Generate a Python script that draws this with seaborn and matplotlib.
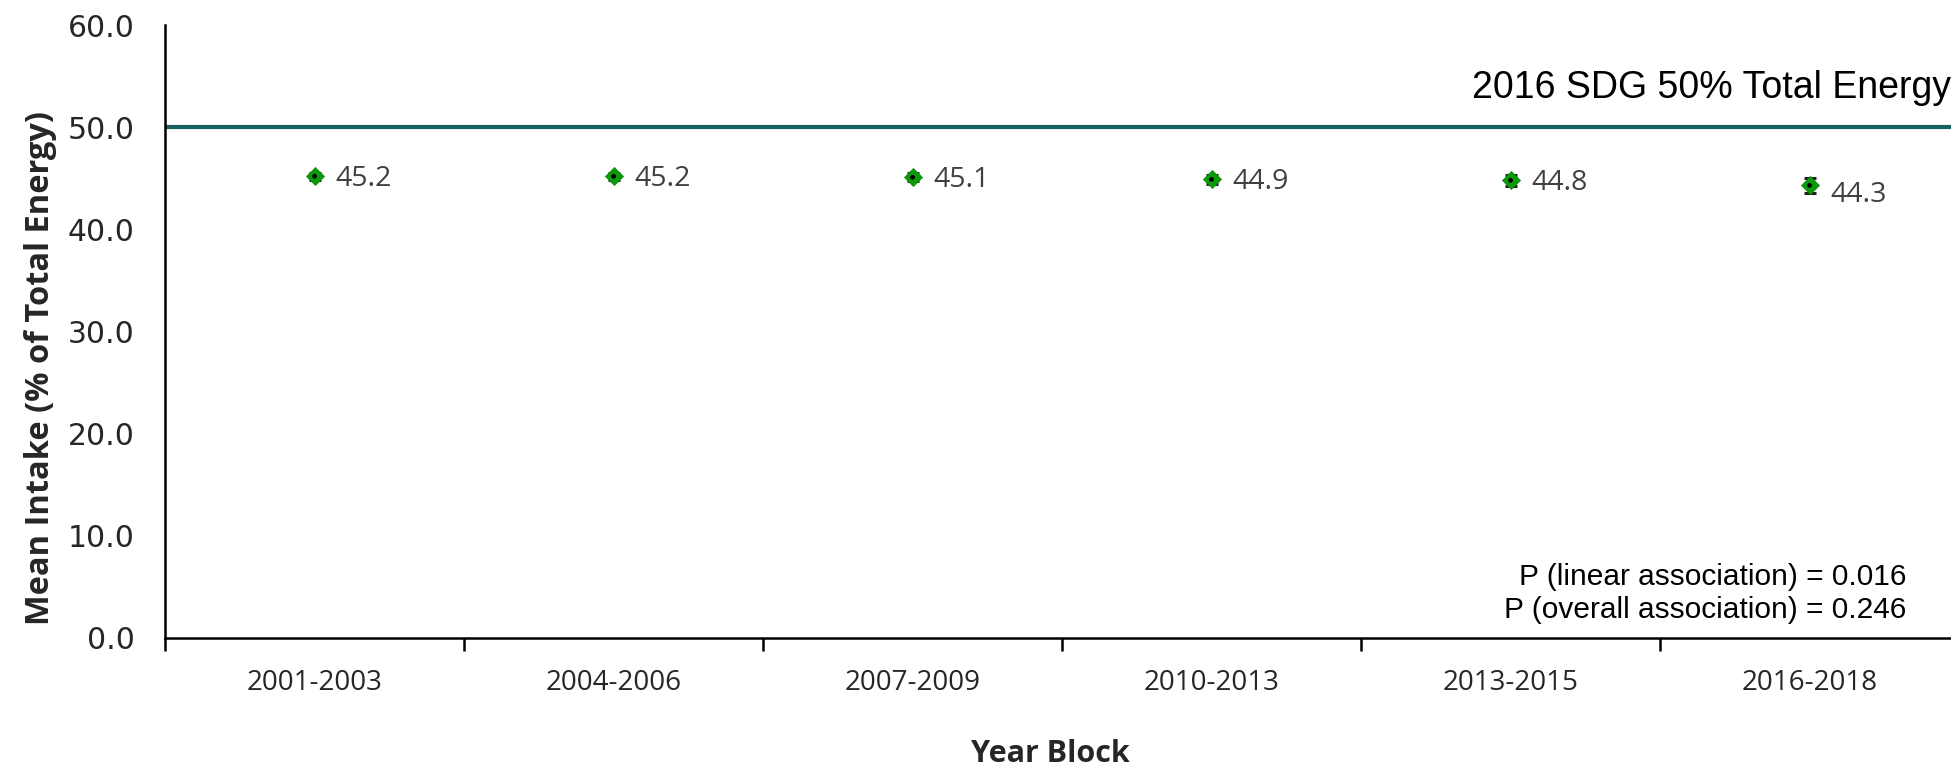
import numpy as np
import pandas as pd
import matplotlib
matplotlib.use("Agg")
import matplotlib.pyplot as plt
import seaborn as sns

# Mean intake of a nutrient as % of total energy, by survey year block
year_blocks = ["2001-2003", "2004-2006", "2007-2009", "2010-2013", "2013-2015", "2016-2018"]
mean_intake = [45.2, 45.2, 45.1, 44.9, 44.8, 44.3]
std_error = [0.35, 0.35, 0.4, 0.45, 0.55, 0.7]
sdg_limit = 50.0
y_ticks = [0, 10, 20, 30, 40, 50, 60]
p_text = ["P (linear association) = 0.016", "P (overall association) = 0.246"]

sns.set_style("white")
plt.rcParams["font.family"] = ["Open Sans", "DejaVu Sans"]

df = pd.DataFrame({"block": year_blocks, "mean": mean_intake, "se": std_error})
df["pos"] = np.arange(len(df))

fig = plt.figure(figsize=(19.51, 7.69), dpi=100)
ax = fig.add_axes([0.0846, 0.1704, 0.9195, 0.797])

# Reference line for the dietary guideline
ax.axhline(sdg_limit, color="#17625f", lw=3, zorder=1)

# Error bars, then markers
ax.errorbar(df["pos"], df["mean"], yerr=df["se"], fmt="none", ecolor="#222222",
            elinewidth=1.6, capsize=4.5, capthick=2.2, zorder=2)
sns.scatterplot(data=df, x="pos", y="mean", marker="D", s=85, color="#0a9a0a",
                edgecolor="#0a8a0a", linewidth=0.5, ax=ax, zorder=3, legend=False)
sns.scatterplot(data=df, x="pos", y="mean", marker="o", s=12, color="black",
                edgecolor="none", ax=ax, zorder=4, legend=False)

# Value labels sit just right of each marker; the last one is nudged down
# so it clears its wider error bar
for i, r in df.iterrows():
    dy = -0.3 if i < len(df) - 1 else -0.95
    ax.text(r["pos"] + 0.07, r["mean"] + dy, f"{r['mean']:.1f}", ha="left", va="center",
            fontsize=20.5, color="#404040")

ytr = ax.get_yaxis_transform()
ax.text(0.9955, 50 + 3.8, "2016 SDG 50% Total Energy", transform=ytr,
        ha="right", va="center", fontsize=27, color="black", family="Liberation Sans")
ax.text(0.9705, 6.0, p_text[0], transform=ytr, ha="right", va="center",
        fontsize=21.5, color="black", family="Liberation Sans")
ax.text(0.9705, 2.7, p_text[1], transform=ytr, ha="right", va="center",
        fontsize=21.5, color="black", family="Liberation Sans")

ax.set_xlim(-0.5, len(df) - 0.5)
ax.set_ylim(0, 60)
ax.set_yticks(y_ticks)
ax.set_yticklabels([f"{v:.1f}" for v in y_ticks], fontsize=21.5, color="#262626",
                   family="DejaVu Sans")
ax.set_xticks(df["pos"])
ax.set_xticklabels(year_blocks, fontsize=20, color="#262626")
ax.set_xticks(np.arange(-0.5, len(df) + 0.5, 1.0), minor=True)
ax.tick_params(axis="x", which="major", bottom=False, length=0, pad=22)
ax.tick_params(axis="x", which="minor", bottom=True, length=9, width=1.8,
               color="black", direction="out")
ax.tick_params(axis="y", which="major", length=0, pad=22)

ax.set_xlabel("Year Block", fontsize=22, fontweight="bold")
ax.xaxis.set_label_coords(0.4933, -0.165)
ax.set_ylabel("Mean Intake (% of Total Energy)", fontsize=23.5, fontweight="bold")
ax.yaxis.set_label_coords(-0.060, 0.44)

for s in ["top", "right"]:
    ax.spines[s].set_visible(False)
for s in ["left", "bottom"]:
    ax.spines[s].set_color("black")
    ax.spines[s].set_linewidth(1.8)
ax.grid(False)

fig.savefig("out.png", dpi=100)
